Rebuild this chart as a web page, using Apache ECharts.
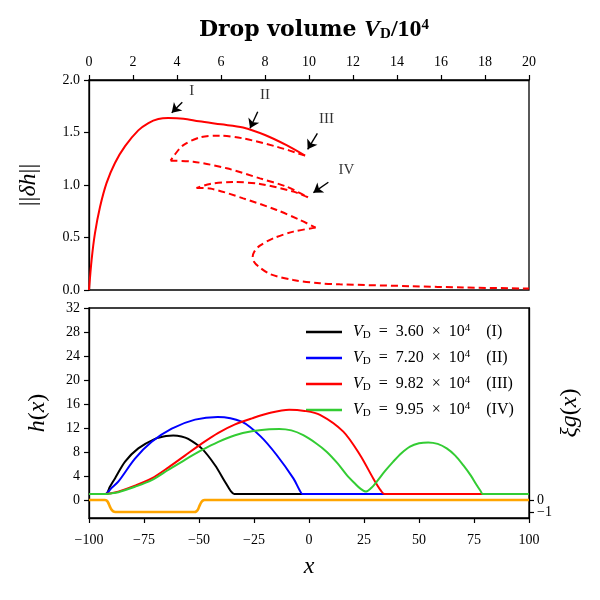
<!DOCTYPE html>
<html><head><meta charset="utf-8">
<script src="https://cdn.jsdelivr.net/npm/echarts@6/dist/echarts.min.js"></script>
<style>html,body{margin:0;padding:0;background:#fff}#c{width:600px;height:600px}</style>
</head><body><div id="c"></div>
<script>
// ---------- data ----------
const topXTicks = [0, 20, 2];           // min, max, step of drop volume axis
const topYTicks = [0, 2, 0.5];
const bottomXTicks = [-100, 100, 25];
const hTicks = [0, 4, 8, 12, 16, 20, 24, 28, 32];
const gTicks = [0, -1];

// bifurcation diagram: [V_D/1e4, ||dh||]
const stableBranch = [[0,0],[0.12,0.29],[0.27,0.54],[0.5,0.79],[0.8,1.02],[1.18,1.21],[1.64,1.37],[2.24,1.52],[2.7,1.59],[3.15,1.628],[3.6,1.638],[4.3,1.632],[5.0,1.607],[6.0,1.578],[7.0,1.548],[8.0,1.476],[9.0,1.377],[9.82,1.28]];
// unstable branches, split at the fold points
const unstableA = [[9.82,1.28],[8.53,1.365],[7.0,1.444],[5.95,1.47],[5.05,1.454],[4.29,1.38],[3.9,1.29],[3.71,1.232]];
const unstableB = [[3.71,1.232],[4.74,1.222],[6.26,1.159],[7.77,1.063],[8.98,0.984],[9.95,0.883]];
const unstableC = [[9.95,0.883],[9.29,0.937],[7.77,1.01],[6.56,1.028],[5.5,1.01],[4.89,0.972]];
const unstableD = [[4.89,0.972],[5.5,0.966],[7.01,0.873],[8.53,0.762],[9.59,0.667],[10.3,0.594]];
const unstableE = [[10.3,0.594],[9.29,0.556],[8.38,0.492],[7.75,0.42],[7.5,0.36],[7.44,0.317],[7.5,0.27],[7.7,0.225],[8.23,0.152],[9.29,0.095],[10.5,0.064],[11.4,0.054],[14.7,0.036],[17,0.024],[20,0.014]];

// annotation arrows: tail, head, text position
const markNames = ['I', 'II', 'III', 'IV'];
const arrowTails = [[4.24,1.788],[7.67,1.698],[10.38,1.492],[10.88,1.026]];
const arrowHeads = [[3.76,1.689],[7.32,1.54],[9.94,1.34],[10.2,0.927]];
const markTextPos = [[4.67,1.895],[8.0,1.86],[10.8,1.63],[11.7,1.14]];

// film profiles h(x): [x, h]
const profileI = [[-100,1],[-92.5,1],[-90.5,2.2],[-88.2,3.6],[-83.6,6.4],[-77.6,8.6],[-70,10.2],[-65,10.68],[-61.7,10.75],[-58,10.6],[-54.9,10.2],[-48.8,8.6],[-42.7,5.8],[-38.2,3.05],[-35.6,1.5],[-34,1],[-20,1],[50,1],[100,1]];
const profileII = [[-100,1],[-92.5,1],[-90,1.9],[-86.7,3.05],[-79.1,6.9],[-71.5,9.7],[-62.4,11.9],[-51.8,13.4],[-41.5,13.85],[-30.6,13.05],[-22,10.6],[-14.7,7.5],[-7.1,3.6],[-4.2,1.6],[-3,1],[10,1],[60,1],[100,1]];
const profileIII = [[-100,1],[-93,1],[-90,1.12],[-86.7,1.4],[-79.1,2.4],[-71.5,3.6],[-64,5.4],[-56.4,7.4],[-48.8,9.4],[-41.2,11.2],[-33.6,12.6],[-26,13.6],[-18,14.5],[-9,15.05],[-2,14.85],[5,14.2],[15.6,11.4],[23.2,7.5],[29.2,3.6],[32.6,1.6],[34.3,1],[45,1],[80,1],[100,1]];
const profileIV = [[-100,1],[-93,1],[-90,1.1],[-86.7,1.3],[-79.1,2.2],[-71.5,3.3],[-64,5.0],[-56.4,6.7],[-48.8,8.3],[-41.2,9.7],[-33.6,10.8],[-26,11.45],[-18,11.8],[-13.5,11.85],[-8,11.6],[-2.6,10.8],[3,9.5],[8,8.05],[13,6.1],[17.1,4.2],[21,2.7],[23.5,1.85],[25.9,1.4],[28,1.9],[30.8,3.05],[34.5,4.8],[38.3,6.4],[42,7.8],[45.9,8.9],[50,9.45],[54.2,9.6],[58.5,9.35],[62.6,8.6],[66.5,7.4],[70.1,5.8],[73.5,4.1],[76.2,2.5],[78,1.5],[79,1],[85,1],[100,1]];
const substrate = [[-100,0],[-95,0],[-92.8,0],[-92,-0.05],[-91.2,-0.25],[-90.5,-0.55],[-89.8,-0.8],[-89,-0.95],[-88,-1],[-80,-1],[-65,-1],[-52,-1],[-51.2,-0.95],[-50.5,-0.8],[-49.8,-0.5],[-49,-0.2],[-48.3,-0.05],[-47.5,0],[-40,0],[0,0],[50,0],[100,0]];

const volumes = ['3.60', '7.20', '9.82', '9.95'];
const profiles = [profileI, profileII, profileIII, profileIV];
const profileColors = ['#000000', '#0000ff', '#ff0000', '#33cc33'];

// ---------- chart ----------
const F = '"Liberation Serif", "DejaVu Serif", serif';
const FT = '"DejaVu Serif", serif';
const minus = v => (v < 0 ? '\u2212' + (-v) : '' + v);
const axisLineStyle = { color: '#000', width: 1.3 };
const axisLine = { onZero: false, lineStyle: axisLineStyle };
const tickStyle = { show: true, inside: false, length: 5, lineStyle: { color: '#000', width: 1.2 } };
const labelBase = { color: '#000', fontFamily: F, fontSize: 14, hideOverlap: false };
const nameRich = {
  i: { fontFamily: F, fontStyle: 'italic', fontSize: 24, color: '#000' },
  n: { fontFamily: F, fontSize: 24, color: '#000' }
};

const series = [];
series.push({ type: 'line', xAxisIndex: 0, yAxisIndex: 0, data: stableBranch, symbol: 'none', smooth: 0.3,
  lineStyle: { color: '#ff0000', width: 2 }, silent: true });
[unstableA, unstableB, unstableC, unstableD, unstableE].forEach(seg => {
  series.push({ type: 'line', xAxisIndex: 0, yAxisIndex: 0, data: seg, symbol: 'none', smooth: 0.3,
    lineStyle: { color: '#ff0000', width: 2, type: [7, 4] }, silent: true });
});
// arrows
series.push({ type: 'line', xAxisIndex: 0, yAxisIndex: 0, data: [], symbol: 'none',
  markLine: { silent: true, symbol: ['none', 'arrow'], symbolSize: 9, label: { show: false },
    lineStyle: { color: '#000', width: 1.4, type: 'solid' },
    data: arrowTails.map((t, k) => [{ coord: t }, { coord: arrowHeads[k] }]) } });
// mark texts
series.push({ type: 'scatter', xAxisIndex: 0, yAxisIndex: 0, symbolSize: 0, silent: true,
  data: markTextPos.map((p, k) => ({ value: p, name: markNames[k] })),
  label: { show: true, position: 'inside', formatter: p => p.name, fontFamily: F, fontSize: 15, color: '#000' } });

profiles.forEach((p, k) => {
  series.push({ name: volumes[k] + '|' + markNames[k], type: 'line', xAxisIndex: 1, yAxisIndex: 1, data: p,
    symbol: 'none', smooth: 0.3, lineStyle: { color: profileColors[k], width: 2 },
    itemStyle: { color: profileColors[k] }, z: 2 + k });
});
series.push({ type: 'line', xAxisIndex: 1, yAxisIndex: 2, data: substrate, symbol: 'none', smooth: 0.3,
  lineStyle: { color: '#ffa500', width: 2.6 }, z: 1 });

const rightAxis = (val, withName) => Object.assign({
  gridIndex: 1, type: 'value', position: 'right', offset: 0, min: -1.5, max: 16,
  axisLine: { show: withName, onZero: false, lineStyle: axisLineStyle },
  axisTick: Object.assign({ customValues: [val] }, tickStyle), splitLine: { show: false },
  axisLabel: Object.assign({}, labelBase, { margin: 8, customValues: [val], formatter: minus })
}, withName ? { name: '{i|ξg}{n|(}{i|x}{n|)}', nameLocation: 'middle', nameRotate: 90, nameGap: 29, nameTextStyle: { rich: nameRich } } : {});

const option = {
  animation: false,
  backgroundColor: '#fff',
  title: {
    text: '{b|Drop volume }{i|V}{s|D}{n|/10}{p|4}',
    left: 309, top: 13, textAlign: 'center',
    textStyle: { rich: {
      b: { fontFamily: FT, fontWeight: 'bold', fontSize: 22, color: '#000', lineHeight: 24 },
      i: { fontFamily: F, fontStyle: 'italic', fontSize: 24, color: '#000', lineHeight: 24 },
      n: { fontFamily: F, fontSize: 24, color: '#000', lineHeight: 24 },
      s: { fontFamily: F, fontSize: 15, color: '#000', verticalAlign: 'bottom', lineHeight: 14 },
      p: { fontFamily: F, fontSize: 15, color: '#000', verticalAlign: 'top', lineHeight: 14 }
    } }
  },
  grid: [
    { left: 89, top: 80, width: 440, height: 210, show: true, borderColor: '#000', borderWidth: 1.3, backgroundColor: 'transparent' },
    { left: 89, top: 308, width: 440, height: 210, show: true, borderColor: '#000', borderWidth: 1.3, backgroundColor: 'transparent' }
  ],
  xAxis: [
    { gridIndex: 0, type: 'value', position: 'top', min: topXTicks[0], max: topXTicks[1], interval: topXTicks[2],
      axisLine: axisLine, axisTick: tickStyle, splitLine: { show: false },
      axisLabel: Object.assign({ margin: 11 }, labelBase) },
    { gridIndex: 1, type: 'value', position: 'bottom', min: bottomXTicks[0], max: bottomXTicks[1], interval: bottomXTicks[2],
      axisLine: axisLine, axisTick: tickStyle, splitLine: { show: false },
      axisLabel: Object.assign({ margin: 15, formatter: minus }, labelBase),
      name: '{i|x}', nameLocation: 'middle', nameGap: 37, nameTextStyle: { rich: nameRich } }
  ],
  yAxis: [
    { gridIndex: 0, type: 'value', min: topYTicks[0], max: topYTicks[1], interval: topYTicks[2],
      axisLine: axisLine, axisTick: tickStyle, splitLine: { show: false },
      axisLabel: Object.assign({ margin: 9, formatter: v => v.toFixed(1) }, labelBase),
      name: '{n|||}{i|δh}{n|||}', nameLocation: 'middle', nameRotate: 90, nameGap: 48, nameTextStyle: { rich: nameRich } },
    { gridIndex: 1, type: 'value', min: -3, max: 32,
      axisLine: axisLine, axisTick: Object.assign({ customValues: hTicks }, tickStyle), splitLine: { show: false },
      axisLabel: Object.assign({ margin: 9, customValues: hTicks }, labelBase),
      name: '{i|h}{n|(}{i|x}{n|)}', nameLocation: 'middle', nameRotate: 90, nameGap: 39, nameTextStyle: { rich: nameRich } },
    rightAxis(gTicks[0], true),
    rightAxis(gTicks[1], false)
  ],
  legend: {
    orient: 'vertical', left: 301, top: 318, itemWidth: 36, itemHeight: 2.4, itemGap: 8, icon: 'rect',
    data: profiles.map((p, k) => volumes[k] + '|' + markNames[k]),
    formatter: name => {
      const [v, r] = name.split('|');
      return '{i|V}{s|D}{n|\u2002=\u2002' + v + '\u2002×\u200210}{p|4}{n|\u2002\u2002(' + r + ')}';
    },
    textStyle: { padding: [0, 0, 0, 6], rich: {
      i: { fontFamily: F, fontStyle: 'italic', fontSize: 16, color: '#000', lineHeight: 18 },
      n: { fontFamily: F, fontSize: 16, color: '#000', lineHeight: 18 },
      s: { fontFamily: F, fontSize: 11, color: '#000', verticalAlign: 'bottom', lineHeight: 11 },
      p: { fontFamily: F, fontSize: 11, color: '#000', verticalAlign: 'top', lineHeight: 11 }
    } }
  },
  series: series
};
const chart = echarts.init(document.getElementById('c'), null, { renderer: 'canvas' });
chart.setOption(option);
</script></body></html>
